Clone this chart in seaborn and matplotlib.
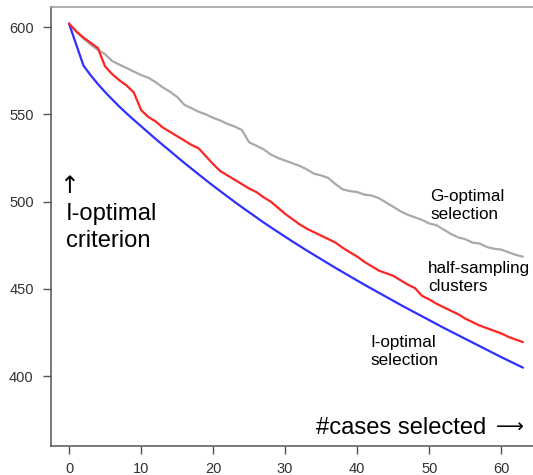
import pandas as pd
import matplotlib.pyplot as plt
import seaborn as sns
import numpy as np

# === DATA ===
n_cases = list(range(0, 64))

i_optimal = [602.0, 590.0, 578.0, 572.4, 567.4, 562.8, 558.5, 554.4, 550.5, 546.8,
             543.2, 539.6, 536.0, 532.5, 529.1, 525.6, 522.2, 518.9, 515.6, 512.3,
             509.1, 506.0, 502.9, 499.8, 496.8, 493.9, 491.0, 488.1, 485.3, 482.6,
             479.9, 477.2, 474.6, 472.0, 469.5, 467.0, 464.5, 462.0, 459.6, 457.2,
             454.8, 452.4, 450.1, 447.8, 445.5, 443.2, 440.9, 438.7, 436.5, 434.3,
             432.1, 429.9, 427.7, 425.6, 423.5, 421.4, 419.3, 417.2, 415.1, 413.0,
             410.9, 408.9, 406.9, 404.9]

half_sampling = [602, 597.5, 594, 591, 588, 577.5, 573, 569.5, 566.5, 562.5,
                 552.5, 548.5, 546, 542.5, 540, 537.5, 535, 532.5, 530.5, 526,
                 521.5, 517.5, 515, 512.5, 510, 507.5, 505.5, 502.5, 500, 496.5,
                 493, 490, 487, 484.5, 482.5, 480.5, 478.5, 476.5, 473.5, 471,
                 468.5, 465.5, 463, 460.5, 459, 457.5, 455, 452.5, 450.5, 446,
                 444, 441.5, 439.5, 437.5, 435.5, 433, 431, 429, 427.5, 426,
                 424.5, 422.5, 421, 419.5]

g_optimal = [602, 597.5, 593.5, 590, 587, 584.5, 580.5, 578.5, 576.5, 574.5,
             572.5, 571, 568.5, 565.5, 563, 560, 555.5, 553.5, 551.5, 550,
             548, 546.5, 544.5, 543, 541, 534, 532, 530, 527, 525,
             523.5, 522, 520.5, 518.5, 516, 515, 513.5, 510, 507, 506,
             505.5, 504, 503.5, 502, 499.5, 497, 494.5, 492.5, 491, 489.5,
             487.5, 486.5, 484, 481.5, 479.5, 478.5, 476.5, 476, 474, 473,
             472.5, 471, 469.5, 468.5]

x_ticks = [0, 10, 20, 30, 40, 50, 60]
y_ticks = [400, 450, 500, 550, 600]

W, H = 533, 475

sns.set_style("white")
plt.rcParams['font.family'] = ['Liberation Sans', 'DejaVu Sans']

df = pd.concat([
    pd.DataFrame({"cases": n_cases, "crit": g_optimal, "method": "G-optimal"}),
    pd.DataFrame({"cases": n_cases, "crit": i_optimal, "method": "I-optimal"}),
    pd.DataFrame({"cases": n_cases, "crit": half_sampling, "method": "half-sampling"}),
], ignore_index=True)

palette = {"G-optimal": "#a9a9a9", "I-optimal": "#2f2fff", "half-sampling": "#ff2424"}

fig = plt.figure(figsize=(W / 100, H / 100), dpi=100)
ax = fig.add_axes([51 / W, 1 - 446 / H, (W - 51) / W, (446 - 7) / H])

sns.lineplot(data=df, x="cases", y="crit", hue="method", palette=palette,
             hue_order=["G-optimal", "I-optimal", "half-sampling"],
             linewidth=1.6, legend=False, ax=ax)

ax.set_xlim(-2.5, 64.4)
ax.set_ylim(360, 611.5)
ax.set_xticks(x_ticks)
ax.set_yticks(y_ticks)
ax.set_xlabel("")
ax.set_ylabel("")
ax.tick_params(axis="both", direction="out", length=5.5, width=1, color="#555555",
               labelsize=10.5, labelcolor="#333333", bottom=True, left=True)
ax.tick_params(axis="x", pad=6.0)
ax.tick_params(axis="y", pad=7.0)

for side in ["left", "bottom"]:
    ax.spines[side].set_color("#555555")
    ax.spines[side].set_linewidth(1.1)
ax.spines["top"].set_color("#999999")
ax.spines["top"].set_linewidth(1.1)
ax.spines["right"].set_visible(False)

# annotations (pixel positions from the reference)
def ptext(x, y, s, size, **kw):
    opts = dict(fontsize=size, va="top", ha="left", linespacing=1.27, color="black")
    opts.update(kw)
    fig.text(x / W, 1 - y / H, s, **opts)

ptext(430.5, 189, "G-optimal\nselection", 12.3)
ptext(428, 261, "half-sampling\nclusters", 12.3)
ptext(370, 334.5, "I-optimal\nselection", 12.3)
ptext(66, 203, "I-optimal\ncriterion", 17.1)
ptext(316.5, 417, "#cases selected", 17.1)

# arrows drawn with DejaVu glyphs
ptext(69.5, 186, "↑", 17, family="DejaVu Sans", ha="center", va="center")
ptext(510, 427, "⟶", 14, family="DejaVu Sans", ha="center", va="center")

fig.savefig("out.png", dpi=100)
